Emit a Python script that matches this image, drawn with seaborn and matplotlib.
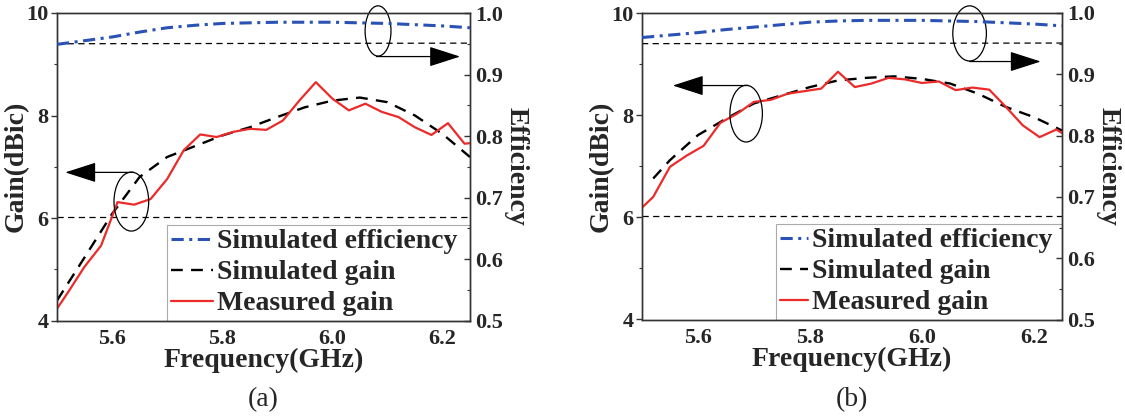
import numpy as np
import pandas as pd
import matplotlib
matplotlib.use("Agg")
import matplotlib.pyplot as plt
import seaborn as sns
from matplotlib.patches import Ellipse
from matplotlib.lines import Line2D
from matplotlib.ticker import MultipleLocator

# ---------------- data ----------------
meas_freq = [5.50, 5.52, 5.55, 5.58, 5.61, 5.64, 5.67, 5.70, 5.73, 5.76, 5.79, 5.82, 5.85, 5.88,
             5.91, 5.94, 5.97, 6.00, 6.03, 6.06, 6.09, 6.12, 6.15, 6.18, 6.21, 6.24, 6.25]
meas_gain_a = [4.23, 4.55, 5.05, 5.46, 6.31, 6.26, 6.37, 6.76, 7.32, 7.63, 7.58, 7.68, 7.74, 7.72,
               7.90, 8.29, 8.65, 8.33, 8.10, 8.23, 8.07, 7.97, 7.77, 7.62, 7.85, 7.45, 7.46]
meas_gain_b = [6.19, 6.40, 6.99, 7.21, 7.40, 7.85, 8.03, 8.26, 8.30, 8.42, 8.47, 8.52, 8.85, 8.55,
               8.62, 8.73, 8.70, 8.63, 8.66, 8.49, 8.54, 8.50, 8.16, 7.80, 7.57, 7.72, 7.65]

sim_freq_a = [5.50, 5.55, 5.60, 5.65, 5.70, 5.75, 5.80, 5.85, 5.90, 5.95, 6.00, 6.05, 6.10, 6.15, 6.20, 6.25]
sim_gain_a = [4.39, 5.23, 6.08, 6.80, 7.19, 7.40, 7.61, 7.77, 7.97, 8.16, 8.29, 8.35, 8.26, 8.00, 7.64, 7.19]
sim_freq_b = [5.52, 5.55, 5.60, 5.65, 5.70, 5.75, 5.80, 5.85, 5.90, 5.95, 6.00, 6.05, 6.10, 6.15, 6.20, 6.25]
sim_gain_b = [6.76, 7.12, 7.61, 7.93, 8.23, 8.39, 8.55, 8.68, 8.73, 8.76, 8.71, 8.62, 8.42, 8.16, 7.96, 7.70]

eff_freq = [5.50, 5.55, 5.60, 5.65, 5.70, 5.75, 5.80, 5.85, 5.90, 5.95, 6.00, 6.05, 6.10, 6.15, 6.20, 6.25]
sim_eff_a = [0.949, 0.955, 0.961, 0.969, 0.976, 0.980, 0.983, 0.984, 0.985, 0.985, 0.985, 0.984, 0.983, 0.981, 0.979, 0.976]
sim_eff_b = [0.960, 0.964, 0.968, 0.973, 0.977, 0.981, 0.985, 0.987, 0.988, 0.988, 0.988, 0.987, 0.986, 0.984, 0.982, 0.979]

ref_gain = [6.02, 6.02]
ref_eff = [0.950, 0.951]

x_ticks = [5.6, 5.8, 6.0, 6.2]
gain_ticks = [4, 6, 8, 10]
eff_ticks = [0.5, 0.6, 0.7, 0.8, 0.9, 1.0]
panel_labels = ["(a)", "(b)"]
legend_labels = ["Simulated efficiency", "Simulated gain", "Measured gain"]

# annotation (ellipse centre, width, height in data units; arrow start / end)
ell_gain = [((5.635, 6.32), 0.063, 1.15), ((5.686, 8.03), 0.058, 1.11)]
ell_eff = [((6.083, 9.65), 0.047, 0.98), ((6.085, 9.60), 0.060, 1.08)]
arr_gain = [((5.640, 6.89), (5.515, 6.89)), ((5.690, 8.58), (5.555, 8.58))]
arr_eff = [((6.080, 9.15), (6.232, 9.15)), ((6.085, 9.05), (6.212, 9.05))]
legend_left = [5.70, 5.739]
legend_handlelen = [1.5, 1.0]

# ---------------- style ----------------
sns.set_style("white")
plt.rcParams["font.family"] = ["Liberation Serif", "DejaVu Serif"]
plt.rcParams["font.weight"] = "bold"
plt.rcParams["axes.labelweight"] = "bold"

RED = "#ec2a2a"
BLUE = "#2a52b4"

fig = plt.figure(figsize=(11.25, 4.18), dpi=100)
axes_pos = [[57 / 1125, 1 - 320.5 / 418, 413 / 1125, 307.5 / 418],
            [642 / 1125, 1 - 319.5 / 418, 420 / 1125, 306.5 / 418]]

datasets = [(meas_gain_a, sim_freq_a, sim_gain_a, sim_eff_a),
            (meas_gain_b, sim_freq_b, sim_gain_b, sim_eff_b)]

for i, (mg, sf, sg, se) in enumerate(datasets):
    ax = fig.add_axes(axes_pos[i])
    ax2 = ax.twinx()

    df_m = pd.DataFrame({"f": meas_freq, "g": mg})
    df_s = pd.DataFrame({"f": sf, "g": sg})
    df_e = pd.DataFrame({"f": eff_freq, "e": se})

    # reference lines
    ax.plot([5.5, 6.25], ref_gain, color="black", lw=0.9, linestyle=(0, (5, 3.5)), zorder=1)
    ax2.plot([5.5, 6.25], ref_eff, color="black", lw=0.9, linestyle=(0, (5, 3.5)), zorder=1)

    sns.lineplot(data=df_s, x="f", y="g", ax=ax, color="black", lw=1.7,
                 linestyle=(0, (5, 3.5)), zorder=3)
    sns.lineplot(data=df_m, x="f", y="g", ax=ax, color=RED, lw=1.6, zorder=4)
    sns.lineplot(data=df_e, x="f", y="e", ax=ax2, color=BLUE, lw=2.2,
                 linestyle=(0, (4, 1.8, 1, 1.8)), zorder=3)

    ax.set_xlim(5.5, 6.25)
    ax.set_ylim(4, 10)
    ax2.set_ylim(0.5, 1.0)
    ax.set_xticks(x_ticks)
    ax.set_xticklabels([f"{t:.1f}" for t in x_ticks])
    ax.xaxis.set_minor_locator(MultipleLocator(0.1))
    ax.set_yticks(gain_ticks)
    ax.set_yticklabels([str(t) for t in gain_ticks])
    ax.yaxis.set_minor_locator(MultipleLocator(1))
    ax2.set_yticks(eff_ticks)
    ax2.set_yticklabels([f"{t:.1f}" for t in eff_ticks])
    ax2.yaxis.set_minor_locator(MultipleLocator(0.05))

    ax.tick_params(axis="both", which="major", direction="out", length=4, width=1,
                   labelsize=16, pad=2, color="#333333")
    ax.tick_params(axis="both", which="minor", direction="out", length=2.5, width=0.8,
                   color="#333333")
    ax2.tick_params(axis="y", which="major", direction="in", length=4, width=1,
                    labelsize=16, pad=4, color="#333333")
    ax2.tick_params(axis="y", which="minor", direction="in", length=2.5, width=0.8,
                    color="#333333")
    for a in (ax, ax2):
        for lab in a.get_xticklabels() + a.get_yticklabels():
            lab.set_fontweight("bold")
        for sp in a.spines.values():
            sp.set_color("#333333")
            sp.set_linewidth(1.0)

    ax.set_xlabel("Frequency(GHz)", fontsize=20, fontweight="bold", labelpad=-1)
    ax.set_ylabel("Gain(dBic)", fontsize=20, fontweight="bold", labelpad=-2)
    ax2.set_ylabel("Efficiency", fontsize=20, fontweight="bold", rotation=-90, labelpad=18)

    # annotations
    (c, w, h) = ell_gain[i]
    ax.add_patch(Ellipse(c, w, h, fill=False, edgecolor="black", lw=0.9, zorder=5,
                         clip_on=False))
    (c, w, h) = ell_eff[i]
    ax.add_patch(Ellipse(c, w, h, fill=False, edgecolor="black", lw=0.9, zorder=5,
                         clip_on=False))
    for (s, e) in (arr_gain[i], arr_eff[i]):
        ax.annotate("", xy=e, xytext=s, xycoords="data", textcoords="data",
                    arrowprops=dict(arrowstyle="-|>,head_length=1.4,head_width=0.45",
                                    color="black", lw=0.9, mutation_scale=14,
                                    shrinkA=0, shrinkB=0), zorder=6)

    # legend
    handles = [Line2D([], [], color=BLUE, lw=2.2, linestyle=(0, (4, 1.8, 1, 1.8))),
               Line2D([], [], color="black", lw=1.7, linestyle=(0, (5, 3.5))),
               Line2D([], [], color=RED, lw=1.6)]
    x0 = ax.transAxes.inverted().transform(ax.transData.transform((legend_left[i], 4)))[0]
    leg = ax.legend(handles, legend_labels, loc="lower left",
                    bbox_to_anchor=(x0, 0.0, 1 - x0, 0.335), mode="expand",
                    borderaxespad=0, frameon=True, fancybox=False, framealpha=1,
                    edgecolor="#aaaaaa", prop=dict(family="Liberation Serif", weight="bold", size=20),
                    handlelength=legend_handlelen[i], handletextpad=0.15, labelspacing=0.2,
                    borderpad=0.15)
    leg.get_frame().set_linewidth(0.8)
    leg.set_zorder(2)

    fig.text((axes_pos[i][0] + axes_pos[i][2] / 2), 1 - 400 / 418, panel_labels[i],
             fontsize=20, fontweight="normal", ha="center", va="center")

fig.savefig("out.png", dpi=100)
